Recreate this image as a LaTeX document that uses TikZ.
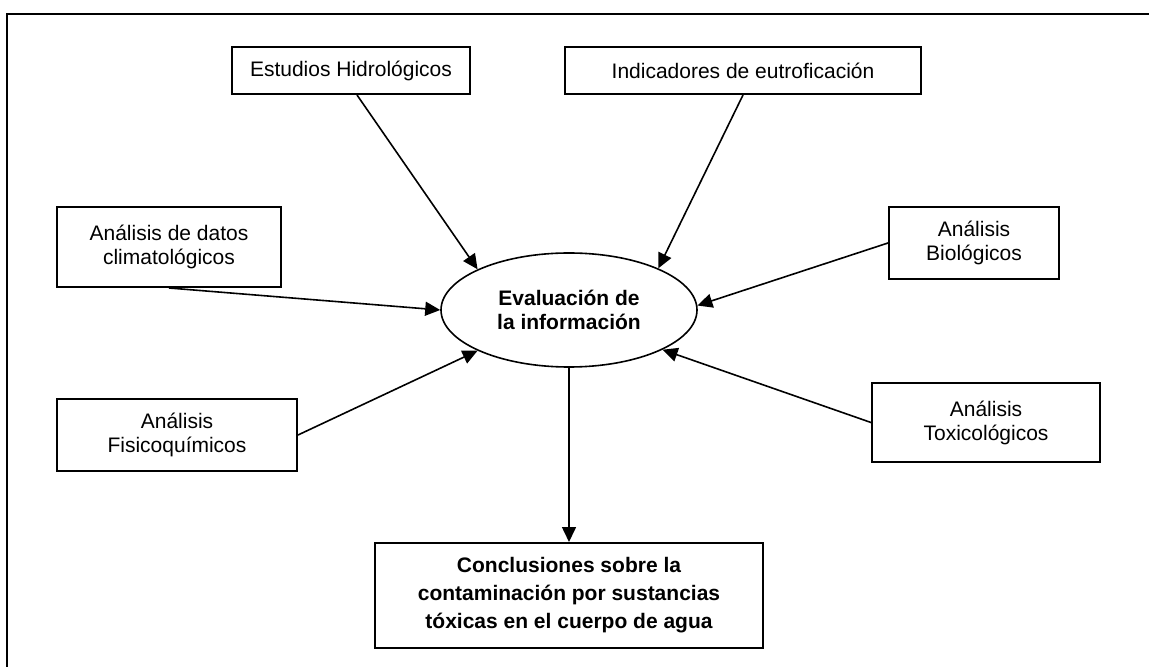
\documentclass[tikz,border=0pt]{standalone}
\usepackage{fontspec}
\setmainfont{Liberation Sans}
\usetikzlibrary{arrows.meta,shapes.geometric}

\tikzset{
  caja/.style={draw, line width=1pt, align=center, inner sep=0pt,
    font=\fontsize{10.5}{12}\selectfont},
  flecha/.style={line width=0.8pt, -{Triangle[length=7.5pt,width=7pt]}},
}

\begin{document}
\begin{tikzpicture}[x=0.5pt,y=-0.5pt]
		%%%%% START %%%%%
		\useasboundingbox (0,0) rectangle (1149,667);
		
		% marco
		\draw[line width=1pt] (7,667) -- (7,14) -- (1149,14);
		
		\node[caja, minimum width=119pt, minimum height=23.5pt] (hidro) at (351,70.5) {Estudios Hidrológicos};
		\node[caja, minimum width=178pt, minimum height=23.5pt] (eutro) at (743,70.5) {Indicadores de eutroficación};
		
		\node[caja, minimum width=112pt, minimum height=40pt] (clima) at (169,247) {Análisis de datos\\climatológicos};
		\node[caja, minimum width=85pt, minimum height=36pt] (bio) at (974,243) {Análisis\\Biológicos};
		
		\node[draw, ellipse, line width=0.8pt, minimum width=128pt, minimum height=57pt, inner sep=0pt, align=center,
		  font=\bfseries\fontsize{10.5}{12}\selectfont] (eval) at (569,310) {Evaluación de\\la información};
		
		\node[caja, minimum width=120pt, minimum height=36pt] (fisico) at (177,435) {Análisis\\Fisicoquímicos};
		\node[caja, minimum width=114pt, minimum height=39.5pt] (toxi) at (986,422.5) {Análisis\\Toxicológicos};
		
		\node[caja, minimum width=194pt, minimum height=52.5pt, font=\bfseries\fontsize{10.5}{14}\selectfont] (concl) at (569,595.5)
		  {Conclusiones sobre la\\contaminación por sustancias\\tóxicas en el cuerpo de agua};
		
		% flechas
		\draw[flecha] ([xshift=3pt]hidro.south) -- (eval.156);
		\draw[flecha] (eutro.south) -- (eval.25);
		\draw[flecha] (clima.south) -- (eval.west);
		\draw[flecha] (bio.west) -- (eval.2);
		\draw[flecha] (fisico.east) -- (eval.204);
		\draw[flecha] (toxi.west) -- (eval.337);
		\draw[flecha] (eval.south) -- (concl.north);
		
		%%%%% END %%%%%
\end{tikzpicture}
\end{document}
